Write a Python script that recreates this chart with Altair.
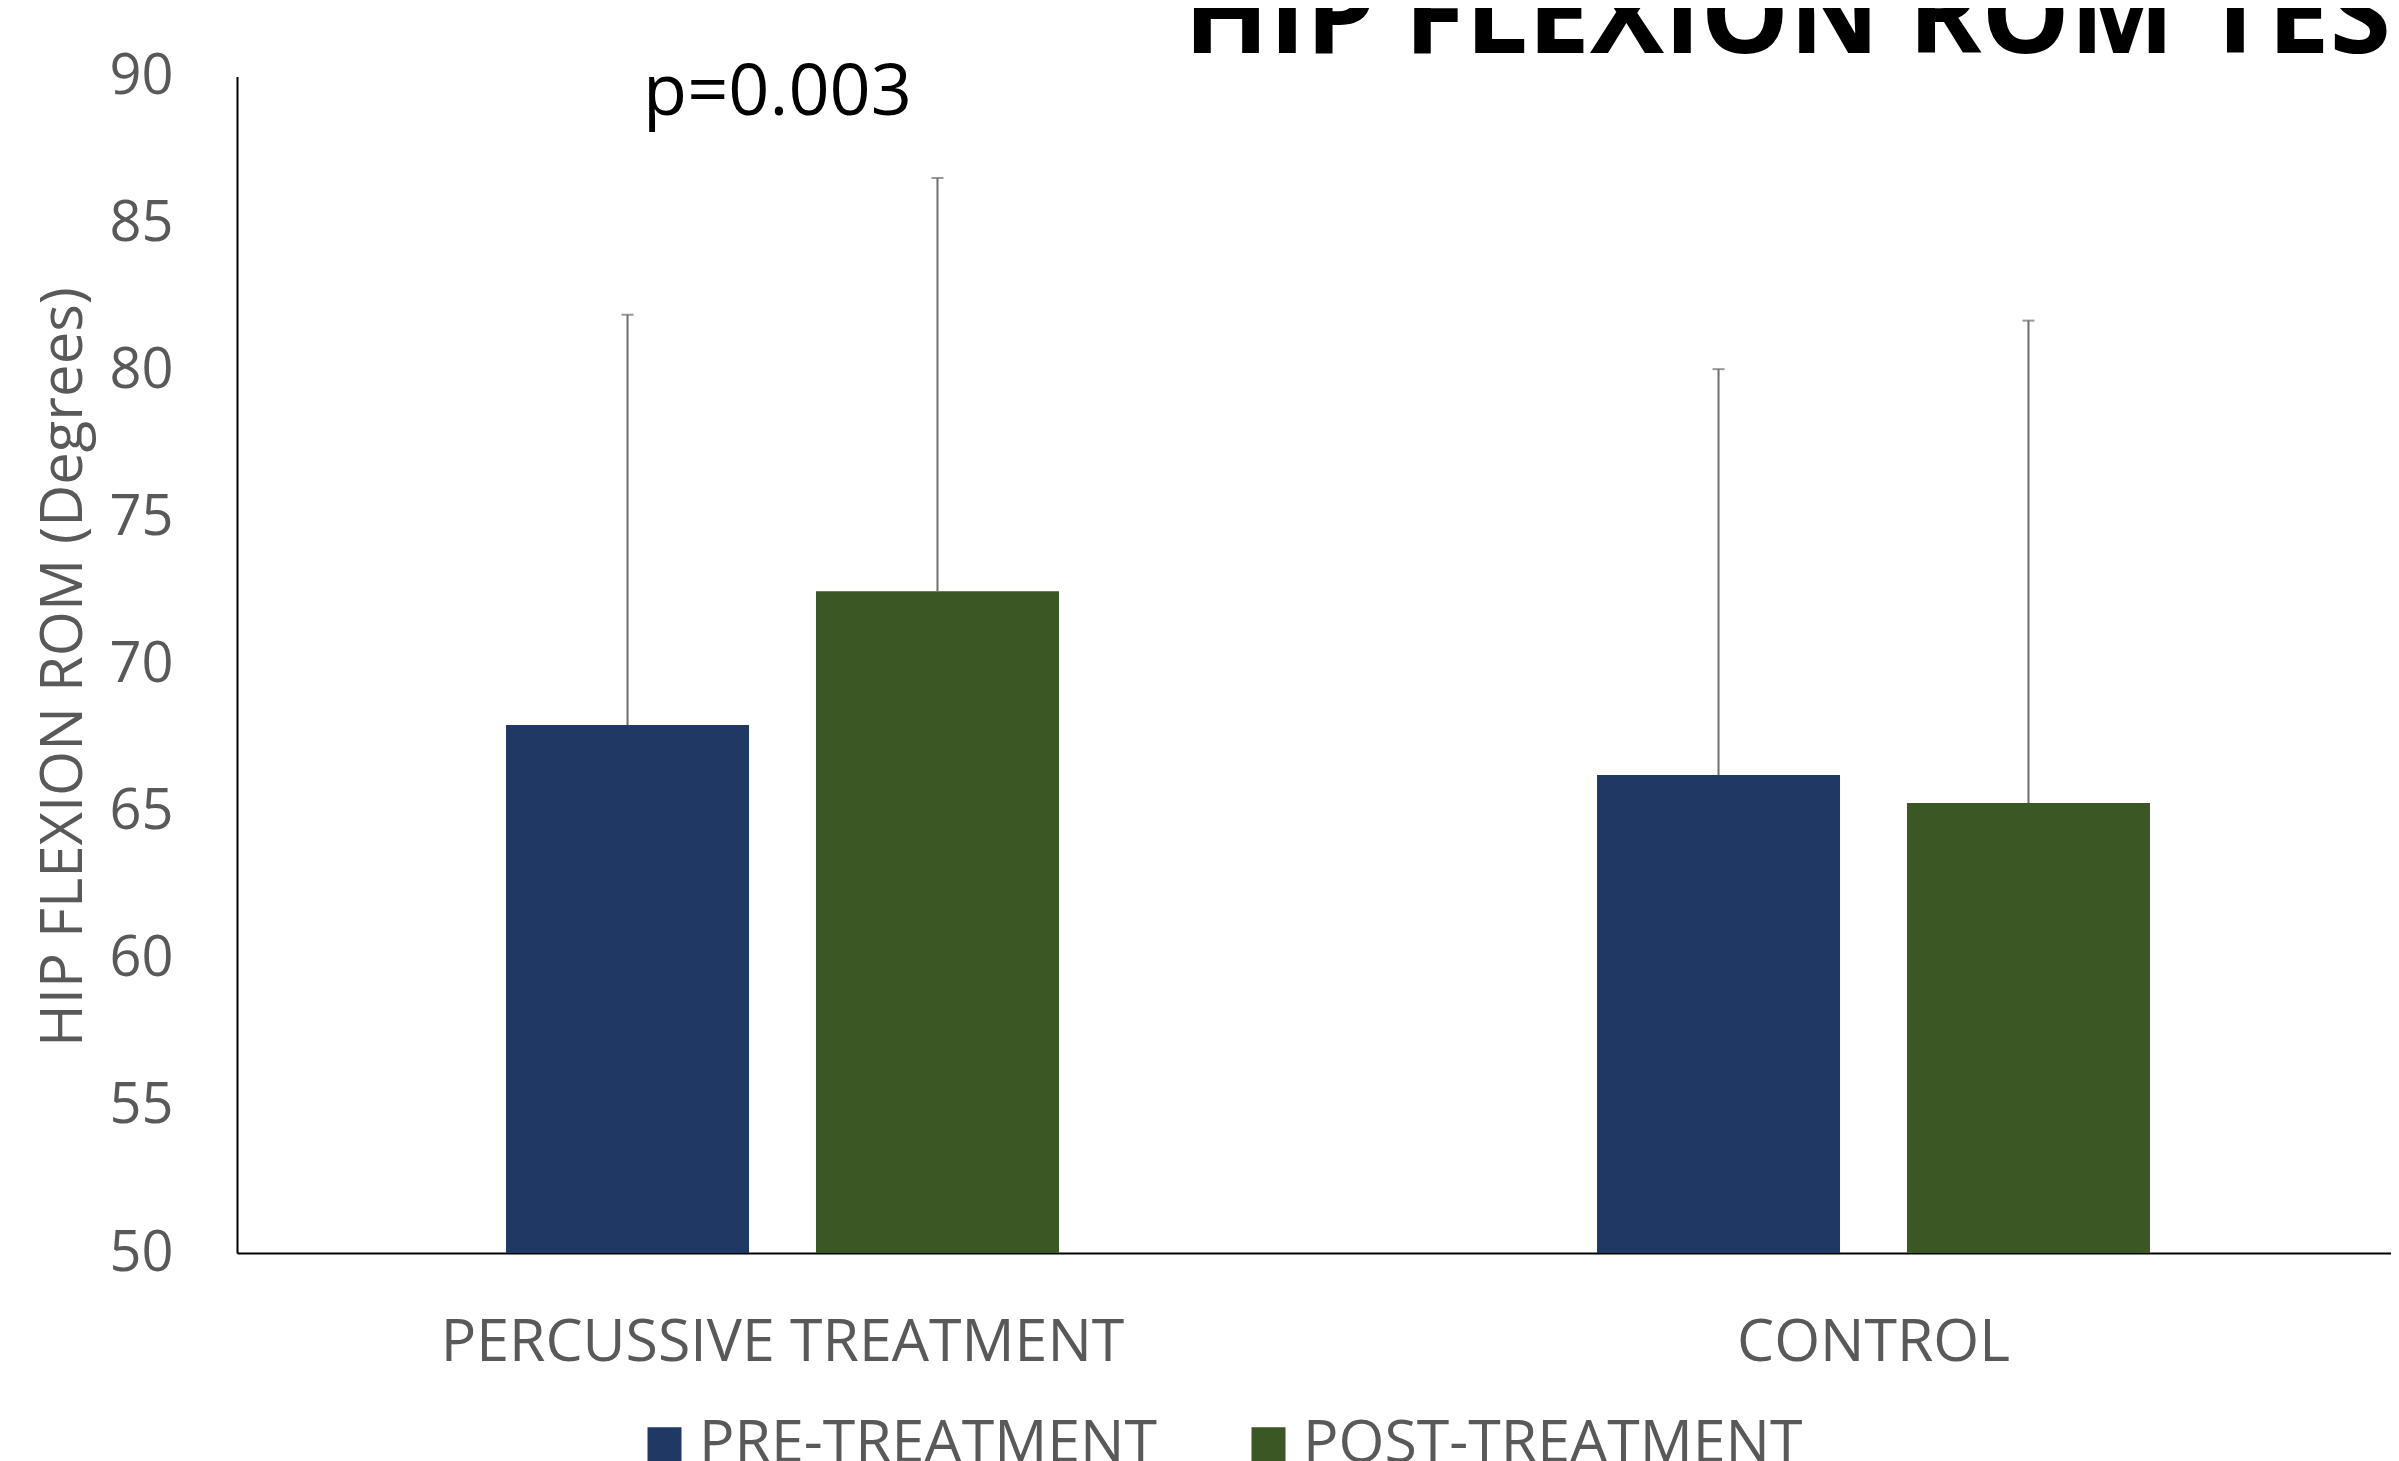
import altair as alt
import pandas as pd

# ---- data ----
groups = ["PERCUSSIVE TREATMENT", "PERCUSSIVE TREATMENT", "CONTROL", "CONTROL"]
phases = ["PRE-TREATMENT", "POST-TREATMENT", "PRE-TREATMENT", "POST-TREATMENT"]
means = [67.95, 72.5, 66.25, 65.3]
upper = [81.9, 86.55, 80.05, 81.7]

group_order = ["PERCUSSIVE TREATMENT", "CONTROL"]
phase_order = ["PRE-TREATMENT", "POST-TREATMENT"]
phase_colors = ["#203864", "#3a5724"]
y_ticks = [50, 55, 60, 65, 70, 75, 80, 85, 90]

note_group = ["PERCUSSIVE TREATMENT"]
note_y = [88.7]
note_text = ["p=0.003"]

title_text = ["HIP FLEXION ROM TEST"]

df = pd.DataFrame({"group": groups, "phase": phases, "mean": means, "upper": upper})
notes = pd.DataFrame({"group": note_group, "y": note_y, "text": note_text})
titles = pd.DataFrame({"text": title_text})

FONT = "Open Sans"
GREY = "#595959"

x_enc = alt.X(
    "group:N",
    sort=group_order,
    scale=alt.Scale(range=[0, 2182], paddingInner=0, paddingOuter=0),
    axis=alt.Axis(
        title=None, ticks=False, labelAngle=0, labelColor=GREY, labelFont=FONT,
        labelFontSize=59, labelPadding=60, labelLimit=2000,
        domainColor="black", domainWidth=2,
    ),
)
xoff_enc = alt.XOffset(
    "phase:N", sort=phase_order,
    scale=alt.Scale(paddingInner=0.216, paddingOuter=0.868),
)
y_scale = alt.Scale(domain=[50, 90], nice=False, zero=False)

bars = alt.Chart(df).mark_bar(clip=True).encode(
    x=x_enc,
    xOffset=xoff_enc,
    y=alt.Y(
        "mean:Q", scale=y_scale,
        axis=alt.Axis(
            values=y_ticks, grid=False, ticks=False, labelColor=GREY, labelFont=FONT,
            labelFontSize=56, labelPadding=64, domainColor="black", domainWidth=2,
            title="HIP FLEXION ROM (Degrees)", titleColor=GREY, titleFont=FONT,
            titleFontSize=58, titleFontWeight="normal", titleAngle=-90,
            titleX=-173, titleY=590, titleAlign="center", titleBaseline="middle",
            titleLimit=2000,
        ),
    ),
    color=alt.Color(
        "phase:N", sort=phase_order,
        scale=alt.Scale(domain=phase_order, range=phase_colors),
        legend=alt.Legend(
            title=None, orient="none", direction="horizontal", legendX=398, legendY=1338,
            symbolType="square", symbolSize=1156, symbolStrokeWidth=0, labelFont=FONT,
            labelFontSize=59, labelColor=GREY, labelOffset=5, columnPadding=82, padding=0,
            labelLimit=2000,
        ),
    ),
)

rules = alt.Chart(df).mark_rule(color="#6e6e6e", strokeWidth=2).encode(
    x=x_enc, xOffset=xoff_enc, y=alt.Y("mean:Q", scale=y_scale), y2="upper:Q"
)
caps = alt.Chart(df).mark_tick(color="#6e6e6e", thickness=2, size=12).encode(
    x=x_enc, xOffset=xoff_enc, y=alt.Y("upper:Q", scale=y_scale)
)
note = alt.Chart(notes).mark_text(
    font=FONT, fontSize=72, color="black", align="center", baseline="alphabetic", dx=-5
).encode(x=x_enc, y=alt.Y("y:Q", scale=y_scale), text="text:N")

title_mark = alt.Chart(titles).mark_text(
    font=FONT, fontSize=111, fontWeight="bold", color="black",
    align="left", baseline="alphabetic", limit=3000,
).encode(x=alt.value(947), y=alt.value(-24), text="text:N")

chart = alt.layer(bars, rules, caps, note, title_mark).properties(
    width=2154,
    height=1176.5,
    autosize=alt.AutoSizeParams(type="none"),
    padding={"left": 229, "top": 68.5, "right": 0, "bottom": 208},
).configure_view(stroke=None)

chart.save("out.html", embed_options={"renderer": "svg", "actions": False})
